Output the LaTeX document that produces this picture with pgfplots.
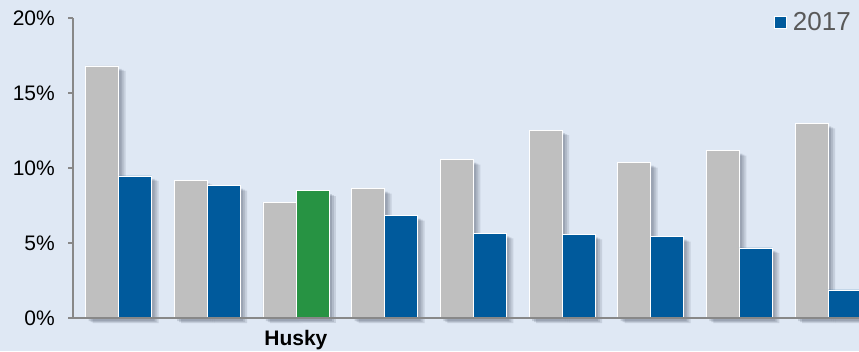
\documentclass[border=0pt]{standalone}
\usepackage{fontspec}
\setmainfont{Liberation Sans}
\usepackage{pgfplots}
\pgfplotsset{compat=1.18}
\definecolor{bg}{RGB}{223,232,244}
\definecolor{bargray}{RGB}{191,191,191}
\definecolor{barblue}{RGB}{0,90,156}
\definecolor{bargreen}{RGB}{39,147,67}
\definecolor{axisgray}{RGB}{136,136,136}
\definecolor{legtext}{RGB}{89,89,89}
\definecolor{shadowc}{RGB}{30,40,60}
\tikzset{
  barshadow/.style={
    preaction={draw=none, fill=shadowc, fill opacity=0.12, transform canvas={xshift=7pt, yshift=-5pt}},
    preaction={draw=none, fill=shadowc, fill opacity=0.13, transform canvas={xshift=5pt, yshift=-4pt}},
    preaction={draw=none, fill=shadowc, fill opacity=0.15, transform canvas={xshift=3pt, yshift=-3pt}},
  },
}
\begin{document}
\begin{tikzpicture}[x=1pt,y=1pt]
\useasboundingbox (0,0) rectangle (859,351);
\clip (0,0) rectangle (859,351);
\fill[bg] (0,0) rectangle (859,351);
\begin{axis}[
  at={(73pt,33pt)}, anchor=south west,
  scale only axis, width=799.5pt, height=300pt,
  xmin=-0.513, xmax=8.5, ymin=0, ymax=20,
  axis line style={draw=none},
  ytick={0,5,10,15,20},
  yticklabel={\pgfmathprintnumber{\tick}\%},
  xtick={2}, xticklabels={\textbf{Husky}},
  tick label style={font=\fontsize{21}{24}\selectfont},
  /pgf/number format/assume math mode=true,
  xtick style={draw=none},
  ytick style={axisgray, line width=1.5pt},
  tick align=outside, major tick length=5pt,
  yticklabel style={inner sep=0pt, xshift=-13pt},
  xticklabel style={anchor=north, inner sep=0pt, yshift=-7pt},
  ybar, bar width=33pt,
  legend style={at={(0.973,0.987)}, anchor=east, draw=none, fill=none, inner sep=0pt,
    font=\fontsize{26}{26}\selectfont, text=legtext, nodes={inner xsep=0pt}},
  clip=false,
]
\addlegendimage{legend image code/.code={\path[draw=none] (0pt,0pt) -- (19pt,0pt); \fill[barblue, draw=white, line width=0.4pt] (0pt,-6pt) rectangle (12pt,6pt);}}
\addlegendentry{2017}
\addplot[fill=bargray, draw=white, line width=0.8pt, barshadow, bar shift=-16.5pt, forget plot] coordinates {
  (0,16.8) (1,9.18) (2,7.73) (3,8.62) (4,10.55) (5,12.53) (6,10.35) (7,11.15) (8,12.98)};
\addplot[fill=barblue, draw=white, line width=0.8pt, barshadow, bar shift=16.5pt, forget plot] coordinates {
  (0,9.47) (1,8.82) (3,6.82) (4,5.64) (5,5.58) (6,5.42) (7,4.67) (8,1.87)};
\addplot[fill=bargreen, draw=white, line width=0.8pt, barshadow, bar shift=16.5pt, forget plot] coordinates {(2,8.49)};
\draw[axisgray, line width=1.5pt] (rel axis cs:0,0) -- (rel axis cs:0,1);
\draw[axisgray, line width=2pt] ([xshift=-5pt]rel axis cs:0,0) -- (rel axis cs:1,0);
\end{axis}
\end{tikzpicture}
\end{document}
